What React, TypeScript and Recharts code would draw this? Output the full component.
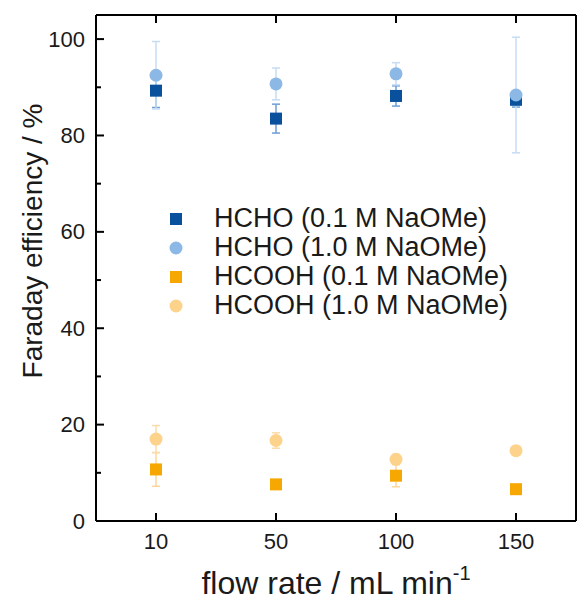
import { ComposedChart, ErrorBar, Line, XAxis, YAxis } from "recharts";

/* ===== Data ===== */
const flowRates = ["10", "50", "100", "150"];

const hcho01 = [89.3, 83.5, 88.2, 87.4];
const hcho01Err = [3.5, 3.0, 2.1, 1.5];
const hcho10 = [92.5, 90.7, 92.8, 88.4];
const hcho10Err = [7.0, 3.3, 2.3, 12.0];
const hcooh01 = [10.7, 7.6, 9.4, 6.6];
const hcooh01Err = [3.5, 0.4, 2.3, 0.4];
const hcooh10 = [17.0, 16.7, 12.8, 14.6];
const hcooh10Err = [2.8, 1.6, 1.0, 0.3];

const yTicks = [0, 10, 20, 30, 40, 50, 60, 70, 80, 90, 100];

const FONT = "'Liberation Sans', Arial, sans-serif";
const TXT = "#1a1a1a";

/* ===== Series styles ===== */
const series = [
  { key: "hcho01", err: "hcho01Err", label: "HCHO (0.1 M NaOMe)", color: "#0a519d", errColor: "#6d9fd4", shape: "square" },
  { key: "hcho10", err: "hcho10Err", label: "HCHO (1.0 M NaOMe)", color: "#8cb8e6", errColor: "#c6dcf3", shape: "circle" },
  { key: "hcooh01", err: "hcooh01Err", label: "HCOOH (0.1 M NaOMe)", color: "#f6a800", errColor: "#fcd79c", shape: "square" },
  { key: "hcooh10", err: "hcooh10Err", label: "HCOOH (1.0 M NaOMe)", color: "#fdd38c", errColor: "#fcdcaa", shape: "circle" },
];

const chartData = flowRates.map((cat, i) => ({
  cat,
  hcho01: hcho01[i],
  hcho01Err: hcho01Err[i],
  hcho10: hcho10[i],
  hcho10Err: hcho10Err[i],
  hcooh01: hcooh01[i],
  hcooh01Err: hcooh01Err[i],
  hcooh10: hcooh10[i],
  hcooh10Err: hcooh10Err[i],
}));

/* ===== Markers ===== */
const makeDot = (shape: string, color: string) => (p: any) => {
  if (p.cx == null || p.cy == null) return <g key={`e${p.index}`} />;
  if (shape === "square")
    return <rect key={`d${p.index}`} x={p.cx - 6} y={p.cy - 6} width={12} height={12} fill={color} />;
  return <circle key={`d${p.index}`} cx={p.cx} cy={p.cy} r={6.5} fill={color} />;
};

/* ===== Ticks (inward, drawn by hand) ===== */
const LeftTick = ({ x, y, payload }: any) => {
  const major = payload.value % 20 === 0;
  return (
    <g>
      <line x1={x} x2={x + (major ? 8 : 5)} y1={y} y2={y} stroke="#000" strokeWidth={2} />
      {major && (
        <text x={x - 11} y={y + 7.5} textAnchor="end" fontSize={22} fontFamily={FONT} fill={TXT}>
          {payload.value}
        </text>
      )}
    </g>
  );
};

const RightTick = ({ x, y, payload }: any) => {
  const major = payload.value % 20 === 0;
  return <line x1={x} x2={x - (major ? 8 : 5)} y1={y} y2={y} stroke="#000" strokeWidth={2} />;
};

const BottomTick = ({ x, y, payload }: any) => (
  <g>
    <line x1={x} x2={x} y1={y} y2={y - 8} stroke="#000" strokeWidth={2} />
    <text x={x} y={y + 28} textAnchor="middle" fontSize={22} fontFamily={FONT} fill={TXT}>
      {payload.value}
    </text>
  </g>
);

const TopTick = ({ x, y }: any) => (
  <line x1={x} x2={x} y1={y} y2={y + 8} stroke="#000" strokeWidth={2} />
);

export default function App() {
  return (
    <div style={{ position: "absolute", left: 0, top: 0, width: 577, height: 601, background: "#fff" }}>
      <ComposedChart
        width={577}
        height={601}
        data={chartData}
        margin={{ top: 14, right: 0, bottom: 0, left: 0 }}
      >
        <XAxis
          xAxisId="bottom"
          dataKey="cat"
          scale="band"
          height={80}
          interval={0}
          tickSize={0}
          tickMargin={0}
          tickLine={false}
          axisLine={{ stroke: "#000", strokeWidth: 2 }}
          tick={<BottomTick />}
          label={{
            content: ({ viewBox }: any) => (
              <text
                x={viewBox.x + viewBox.width / 2}
                y={viewBox.y + 73}
                textAnchor="middle"
                fontSize={32}
                fontFamily={FONT}
                fill={TXT}
              >
                flow rate / mL min
                <tspan fontSize={20} dy={-14}>-1</tspan>
              </text>
            ),
          }}
        />
        <XAxis
          xAxisId="top"
          dataKey="cat"
          scale="band"
          orientation="top"
          height={1}
          interval={0}
          tickSize={0}
          tickMargin={0}
          tickLine={false}
          axisLine={{ stroke: "#000", strokeWidth: 2 }}
          tick={<TopTick />}
        />
        <YAxis
          yAxisId="left"
          width={96}
          domain={[0, 105]}
          ticks={yTicks}
          interval={0}
          tickSize={0}
          tickMargin={0}
          tickLine={false}
          axisLine={{ stroke: "#000", strokeWidth: 2 }}
          tick={<LeftTick />}
          label={{
            content: ({ viewBox }: any) => {
              const lx = viewBox.x + 42;
              const ly = viewBox.y + viewBox.height / 2 - 27;
              return (
                <text
                  x={lx}
                  y={ly}
                  transform={`rotate(-90, ${lx}, ${ly})`}
                  textAnchor="middle"
                  fontSize={28}
                  fontFamily={FONT}
                  fill={TXT}
                >
                  Faraday efficiency / %
                </text>
              );
            },
          }}
        />
        <YAxis
          yAxisId="right"
          orientation="right"
          width={1}
          domain={[0, 105]}
          ticks={yTicks}
          interval={0}
          tickSize={0}
          tickMargin={0}
          tickLine={false}
          axisLine={{ stroke: "#000", strokeWidth: 2 }}
          tick={<RightTick />}
        />

        {series.map((s) => (
          <Line
            key={s.key}
            xAxisId="bottom"
            yAxisId="left"
            dataKey={s.key}
            stroke="none"
            dot={makeDot(s.shape, s.color)}
            activeDot={false}
            legendType="none"
            isAnimationActive={false}
          >
            <ErrorBar dataKey={s.err} direction="y" width={4} stroke={s.errColor} strokeWidth={1.5} />
          </Line>
        ))}
      </ComposedChart>

      {/* Legend */}
      <div
        style={{
          position: "absolute",
          left: 164,
          top: 204,
          fontFamily: FONT,
          fontSize: 27,
          lineHeight: "29px",
          color: TXT,
          whiteSpace: "nowrap",
        }}
      >
        {series.map((s) => (
          <div key={s.key} style={{ display: "flex", alignItems: "center", height: 29 }}>
            <svg width={50} height={20} style={{ display: "block" }}>
              {s.shape === "square" ? (
                <rect x={6} y={4} width={12} height={12} fill={s.color} />
              ) : (
                <circle cx={12} cy={10} r={6.5} fill={s.color} />
              )}
            </svg>
            <span>{s.label}</span>
          </div>
        ))}
      </div>
    </div>
  );
}
